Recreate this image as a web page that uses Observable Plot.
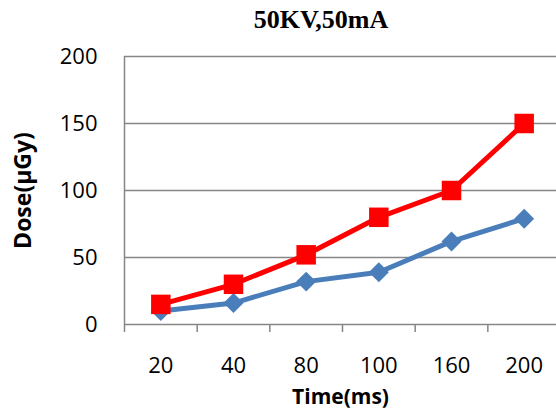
<!DOCTYPE html>
<html>
<head>
<meta charset="utf-8">
<script src="https://cdn.jsdelivr.net/npm/d3@7"></script>
<script src="https://cdn.jsdelivr.net/npm/@observablehq/plot@0.6"></script>
<style>
  body { margin: 0; background: #fff; }
  #wrap { position: relative; width: 556px; height: 414px; overflow: hidden; }
  #title { position: absolute; left: 321px; top: 4px; transform: translateX(-50%);
           font: bold 26px "Liberation Serif", "Times New Roman", serif; white-space: nowrap; line-height: 32px; }
  #chart { position: absolute; left: 0; top: 40px; }
</style>
</head>
<body>
<div id="wrap">
  <div id="title">50KV,50mA</div>
  <div id="chart"></div>
</div>
<script>
const times = ["20", "40", "80", "100", "160", "200"];
const blueSeries = [10, 16, 32, 39, 62, 79];
const redSeries = [15, 30, 52, 80, 100, 150];
const yTicks = [0, 50, 100, 150, 200];
const xLabel = "Time(ms)";
const yLabel = "Dose(µGy)";

const blue = times.map((t, i) => ({i: i + 0.5, t, v: blueSeries[i]}));
const red = times.map((t, i) => ({i: i + 0.5, t, v: redSeries[i]}));
const centers = times.map((t, i) => i + 0.5);
const bounds = d3.range(times.length + 1);
const gray = "#868686";

const chart = Plot.plot({
  width: 556,
  height: 374,
  marginLeft: 124,
  marginRight: 0,
  marginTop: 16,
  marginBottom: 90,
  style: {fontFamily: "'Open Sans', sans-serif", color: "#000", background: "#fff"},
  x: {domain: [0, times.length], range: [124, 560], label: null},
  y: {domain: [0, 200], label: null},
  marks: [
    Plot.ruleY(yTicks, {stroke: gray, strokeWidth: 1.5}),
    Plot.ruleX([0], {y1: 0, y2: 200, stroke: gray, strokeWidth: 1.5}),
    Plot.axisX({ticks: bounds, tickSize: 8, tickFormat: () => "", stroke: gray, strokeWidth: 1.5, label: null}),
    Plot.axisX({ticks: centers, tickSize: 0, tickPadding: 33, fontSize: 22, tickFormat: d => times[Math.floor(d)], label: null, fill: "#000"}),
    Plot.axisY({ticks: yTicks, tickSize: 0, tickPadding: 27, fontSize: 22, label: null, fill: "#000"}),
    Plot.line(blue, {x: "i", y: "v", stroke: "#4a7ebb", strokeWidth: 5}),
    Plot.dot(blue, {x: "i", y: "v", symbol: "diamond2", r: 9, fill: "#4a7ebb", stroke: "none"}),
    Plot.line(red, {x: "i", y: "v", stroke: "#ff0000", strokeWidth: 5}),
    Plot.dot(red, {x: "i", y: "v", symbol: "square", r: 11, fill: "#ff0000", stroke: "none"}),
    Plot.text([xLabel], {frameAnchor: "bottom", dy: 79, text: d => d, fontSize: 21, fontWeight: "bold", fill: "#000", lineAnchor: "bottom"}),
    Plot.text([yLabel], {frameAnchor: "left", dx: -101, rotate: -90, textAnchor: "middle", lineAnchor: "middle", text: d => d, fontSize: 23, fontWeight: "bold", fill: "#000"})
  ]
});
document.getElementById("chart").appendChild(chart);
</script>
</body>
</html>
